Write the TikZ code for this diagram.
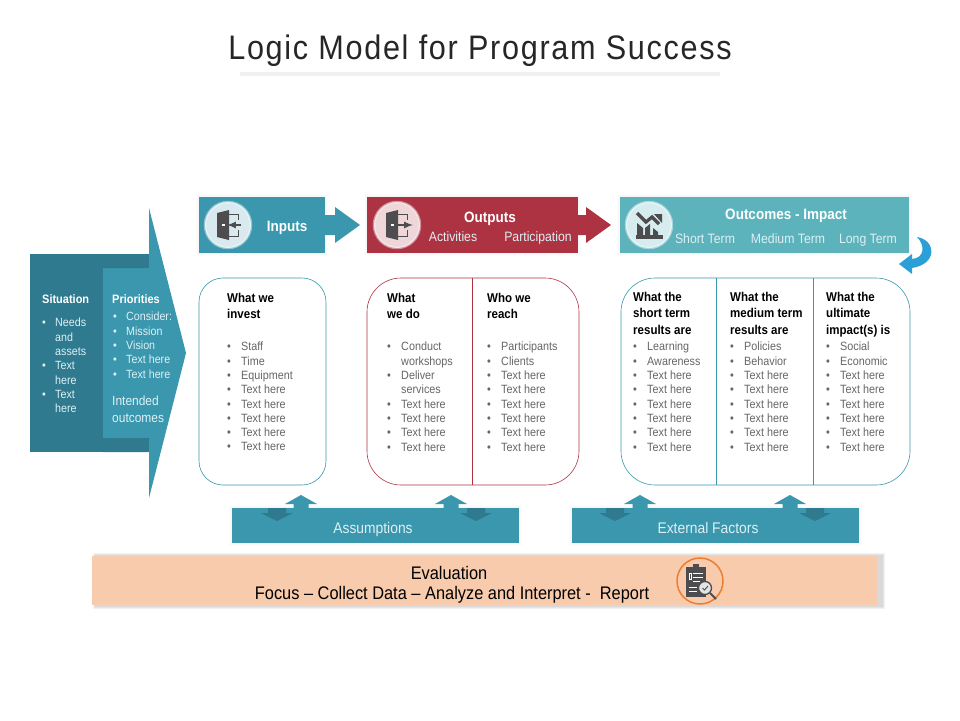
\documentclass[tikz,border=0pt]{standalone}
\usepackage{fontspec}
\setmainfont{Liberation Sans}[FakeStretch=0.9]
\newfontfamily\titlefont{Liberation Sans}[FakeStretch=0.9,LetterSpace=5]
\usetikzlibrary{calc}
\definecolor{tealA}{HTML}{3A97AE}
\definecolor{tealD}{HTML}{2F7A8E}
\definecolor{tealL}{HTML}{5CB3BC}
\definecolor{redA}{HTML}{AD3343}
\definecolor{peach}{HTML}{F8CBAD}
\definecolor{orangeA}{HTML}{ED7D31}
\definecolor{iconG}{HTML}{4D4D4F}
\definecolor{skyA}{HTML}{2A9FD8}
\definecolor{bodyG}{HTML}{666666}
\definecolor{paleT}{HTML}{DDF0F4}
\tikzset{
  blockbox/.style={anchor=north west,inner sep=0pt,outer sep=0pt},
  outline/.style={anchor=north west,inner sep=0pt,outer sep=0pt,draw,line width=.6pt,fill=white},
  head/.style={anchor=north west,inner sep=0pt,align=left,text=black,font=\fontsize{12.8}{16.3}\selectfont\bfseries},
  items/.style={anchor=north west,inner sep=0pt,align=left,text=bodyG,font=\fontsize{12}{14.3}\selectfont},
  lightitems/.style={anchor=north west,inner sep=0pt,align=left,text=paleT,font=\fontsize{11.9}{14.3}\selectfont},
  lighthead/.style={anchor=north west,inner sep=0pt,align=left,text=white,font=\fontsize{12.2}{14}\selectfont\bfseries},
  barhead/.style={anchor=base,text=white,inner sep=0pt,font=\fontsize{15}{17}\selectfont\bfseries},
  barsub/.style={anchor=base,text=paleT,inner sep=0pt,font=\fontsize{13.6}{15}\selectfont},
  lowlabel/.style={anchor=base,text=paleT,inner sep=0pt,font=\fontsize{15.4}{17}\selectfont},
  evaltext/.style={anchor=base,inner sep=0pt,text=black,font=\fontsize{18.2}{20}\selectfont},
  iconring/.style={circle,inner sep=0pt,minimum size=46pt,fill=#1,draw=white,draw opacity=.45,line width=2.5pt},
}
\newcommand{\softrect}[5]{%
  \foreach \g in {3,2,1}{\fill[black,fill opacity=#5] (#1-\g,#2-\g) rectangle (#3+\g,#4+\g);}}
\newcommand{\itm}[1]{\makebox[14pt][l]{•}#1\\}
\newcommand{\cnt}[1]{\hspace*{14pt}#1\\}
\newcommand{\rep}{\itm{Text here}}
\newcommand{\uparr}[1]{\fill[tealA,shift={(#1,0)}] (-7.5,0)--(-7.5,-4)--(-16,-4)--(0,-13)--(16,-4)--(7.5,-4)--(7.5,0)--cycle;}
\newcommand{\downarr}[1]{\fill[tealD,shift={(#1,0)}] (-9,0)--(-9,5)--(-16,5)--(0,13)--(16,5)--(9,5)--(9,0)--cycle;}
\newcommand{\door}{%
  \fill[iconG] (-11,-12)--(1,-15)--(1,15)--(-11,12)--cycle;
  \fill[white] (-6,-1) rectangle (-3,1);
  \draw[iconG,line width=.9pt] (1,-11)--(10,-11)--(10,-5) (10,5)--(10,11)--(1,11);}
\begin{document}
\begin{tikzpicture}[x=1pt,y=-1pt]
\useasboundingbox (0,0) rectangle (960,720);
\fill[white] (0,0) rectangle (960,720);

% title
\node[inner sep=0pt,text=black!85,font=\fontsize{34}{38}\selectfont\titlefont] (title) at (480,51) {Logic Model for Program Success};
\fill[black!6] (240,72) rectangle (720,76);

% left arrow
\node[anchor=north west,inner sep=0pt,minimum width=119pt,minimum height=198pt,fill=tealD] (situation) at (30,254) {};
\fill[tealA] (149,208)--(186,353)--(149,498)--(149,452)--(149,438)--(103,438)--(103,268)--(149,268)--cycle;
\fill[tealD] (103,254) rectangle (148,268) (103,438) rectangle (148,452);
\node[lighthead] (sithead) at (42,294) {Situation};
\node[lightitems] (sitlist) at (42,318) {\makebox[13pt][l]{•}Needs\\\hspace*{13pt}and\\\hspace*{13pt}assets\\\makebox[13pt][l]{•}Text\\\hspace*{13pt}here\\\makebox[13pt][l]{•}Text\\\hspace*{13pt}here};
\node[lighthead] (prihead) at (112,294) {Priorities};
\node[lightitems] (prilist) at (113,312) {\makebox[13pt][l]{•}Consider:\\\makebox[13pt][l]{•}Mission\\\makebox[13pt][l]{•}Vision\\\makebox[13pt][l]{•}Text here\\\makebox[13pt][l]{•}Text here};
\node[anchor=north west,inner sep=0pt,align=left,text=paleT,font=\fontsize{13.3}{16.5}\selectfont] (intended) at (112,396) {Intended\\outcomes};

% header bars
\softrect{199}{197}{325}{253}{.012}
\softrect{367}{197}{578}{253}{.012}
\softrect{620}{197}{909}{253}{.012}
\node[blockbox,fill=tealA,minimum width=126pt,minimum height=56pt] (inputs) at (199,197) {};
\fill[tealA,shift={(inputs.east)}] (0,-10)--(10,-10)--(10,-18)--(35,0)--(10,18)--(10,10)--(0,10)--cycle;
\node[blockbox,fill=redA,minimum width=211pt,minimum height=56pt] (outputs) at (367,197) {};
\fill[redA,shift={(outputs.east)}] (0,-10)--(8,-10)--(8,-18)--(33,0)--(8,18)--(8,10)--(0,10)--cycle;
\node[blockbox,fill=tealL,minimum width=289pt,minimum height=56pt] (outcomes) at (620,197) {};

\node[iconring=white!80!tealA] (icona) at (228,225) {};
\begin{scope}[shift={(icona.center)}]
  \door
  \draw[-latex,iconG,line width=2pt] (13,0)--(-1,0);
\end{scope}
\node[iconring=white!80!redA] (iconb) at (397,225) {};
\begin{scope}[shift={(iconb.center)}]
  \door
  \draw[-latex,iconG,line width=2pt] (1,0)--(16,0);
\end{scope}
\node[iconring=white!75!tealL] (iconc) at (649,225) {};
\begin{scope}[shift={(iconc.center)}]
  \fill[iconG] (-13,10) rectangle (14,14);
  \fill[iconG] (-12,11)--(-12,-2)--(-6,3)--(-6,11)--cycle (-4,11)--(-4,3)--(1,-1)--(1,11)--cycle (4,11)--(4,3)--(9,7)--(9,11)--cycle;
  \draw[iconG,line width=3.2pt] (-12,-12)--(-3,-3)--(3,-8)--(10,-1);
  \fill[iconG] (5,-11)--(13,-11)--(13,-2)--cycle;
\end{scope}

\node[barhead] (inlabel) at (287,231) {Inputs};
\node[barhead] (outlabel) at (490,222) {Outputs};
\node[barsub] (act) at (453,241) {Activities};
\node[barsub] (part) at (538,241) {Participation};
\node[barhead] (outclabel) at (786,219) {Outcomes - Impact};
\node[barsub] (st) at (705,243) {Short Term};
\node[barsub] (mt) at (788,243) {Medium Term};
\node[barsub] (lt) at (868,243) {Long Term};

% curved arrow
\fill[skyA] (917,237) .. controls (936,240) and (938,264) .. (912,268)
  -- (912,274) -- (899,264) -- (912,254) -- (912,259) .. controls (925,258) and (925,245) .. (917,237) -- cycle;

% rounded boxes
\node[outline,draw=tealA,rounded corners=24pt,minimum width=127pt,minimum height=207pt] (boxa) at (199,278) {};
\node[outline,draw=redA,rounded corners=34pt,minimum width=212pt,minimum height=207pt] (boxb) at (367,278) {};
\node[outline,draw=tealA,rounded corners=34pt,minimum width=289pt,minimum height=207pt] (boxc) at (621,278) {};
\draw[redA,line width=.6pt] ($(boxb.north west)+(105,0)$) -- ($(boxb.south west)+(105,0)$);
\draw[tealA,line width=.6pt] ($(boxc.north west)+(95,0)$) -- ($(boxc.south west)+(95,0)$);
\draw[tealA,line width=.6pt] ($(boxc.north west)+(192,0)$) -- ($(boxc.south west)+(192,0)$);

% column text
\node[head] (h1) at (227,293) {What we\\invest};
\node[items] (l1) at (227,342) {\itm{Staff}\itm{Time}\itm{Equipment}\rep\rep\rep\rep\rep};
\node[head] (h2) at (387,293) {What\\we do};
\node[items] (l2) at (387,342) {\itm{Conduct}\cnt{workshops}\itm{Deliver}\cnt{services}\rep\rep\rep\rep};
\node[head] (h3) at (487,293) {Who we\\reach};
\node[items] (l3) at (487,342) {\itm{Participants}\itm{Clients}\rep\rep\rep\rep\rep\rep};
\node[head] (h4) at (633,292) {What the\\short term\\results are};
\node[items] (l4) at (633,342) {\itm{Learning}\itm{Awareness}\rep\rep\rep\rep\rep\rep};
\node[head] (h5) at (730,292) {What the\\medium term\\results are};
\node[items] (l5) at (730,342) {\itm{Policies}\itm{Behavior}\rep\rep\rep\rep\rep\rep};
\node[head] (h6) at (826,292) {What the\\ultimate\\impact(s) is};
\node[items] (l6) at (826,342) {\itm{Social}\itm{Economic}\rep\rep\rep\rep\rep\rep};

% lower bars
\softrect{232}{508}{519}{543}{.012}
\softrect{572}{508}{859}{543}{.012}
\node[blockbox,fill=tealA,minimum width=287pt,minimum height=35pt] (assume) at (232,508) {};
\node[blockbox,fill=tealA,minimum width=287pt,minimum height=35pt] (external) at (572,508) {};
\begin{scope}[shift={(assume.north west)}]
  \uparr{69}\uparr{219}\downarr{45}\downarr{244}
\end{scope}
\begin{scope}[shift={(external.north west)}]
  \uparr{68}\uparr{218}\downarr{43}\downarr{243}
\end{scope}
\node[lowlabel] (assumelabel) at (373,533) {Assumptions};
\node[lowlabel] (externallabel) at (708,533) {External Factors};

% evaluation
\softrect{96}{556}{882}{606}{.05}
\node[anchor=north west,inner sep=0pt,outer sep=0pt,fill=peach,minimum width=785pt,minimum height=49pt] (evalbar) at (92,556) {};
\node[evaltext] (e1) at (449,579) {Evaluation};
\node[evaltext] (e2) at (452,599) {Focus – Collect Data – Analyze and Interpret -\ \ Report};
\node[circle,inner sep=0pt,minimum size=46pt,draw=orangeA,line width=1.5pt] (iconeval) at (700,581) {};
\begin{scope}[shift={(iconeval.center)}]
  \fill[iconG] (-14,-14) rectangle (6,16);
  \fill[iconG] (-7,-17) rectangle (-1,-13);
  \draw[white,line width=.7pt] (-7,-8)--(3,-8) (-7,-4)--(3,-4) (-7,0)--(0,0) (-11,6)--(-3,6) (-11,10)--(-3,10);
  \draw[white,line width=.6pt] (-11,-8) rectangle (-9,-2);
  \draw[iconG,line width=1.3pt,fill=white!85!iconG] (5,7) circle (6.5);
  \draw[iconG,line width=.9pt] (2.5,7)--(4.5,9)--(8,5);
  \draw[iconG,line width=1.8pt] (10,12)--(16,18);
\end{scope}
\end{tikzpicture}
\end{document}
